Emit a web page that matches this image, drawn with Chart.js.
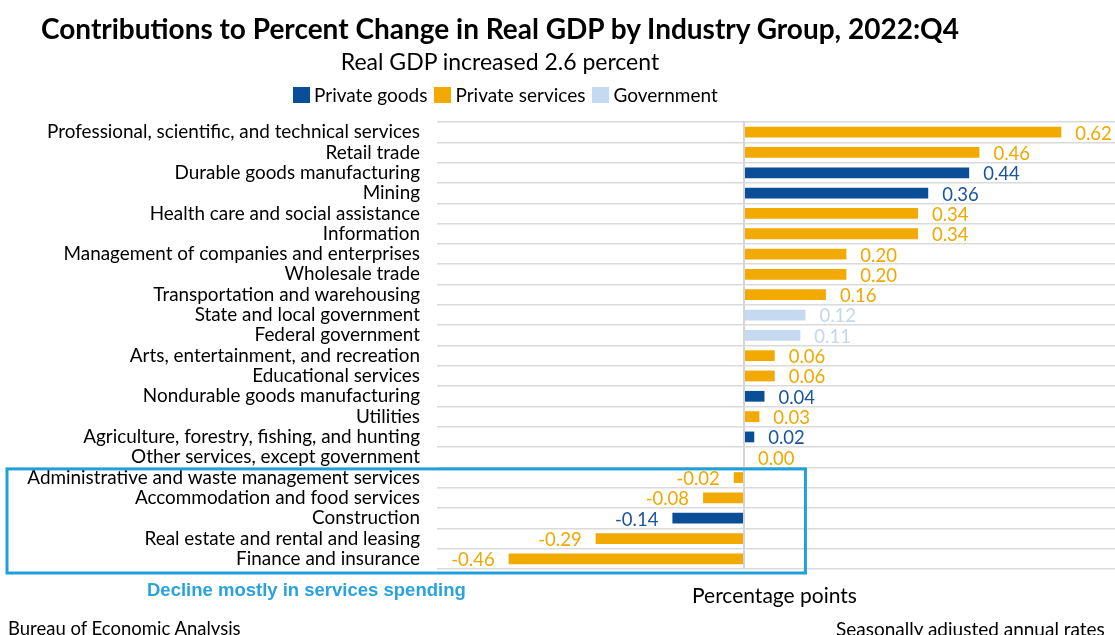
<!DOCTYPE html>
<html>
<head>
<meta charset="utf-8">
<script src="https://cdn.jsdelivr.net/npm/chart.js@4.4.1/dist/chart.umd.min.js"></script>
<style>
  body { margin: 0; background: #fff; font-family: Lato, "Open Sans", sans-serif; }
  #wrap { position: relative; width: 1115px; height: 635px; overflow: hidden; }
  #chartBox { position: absolute; left: 0; top: 0; width: 1115px; height: 635px; }
  .txt { position: absolute; white-space: nowrap; color: #000; line-height: 1; }
  #title { left: 0; width: 1000px; top: 14px; text-align: center; font-weight: 700; font-size: 28px; }
  #subtitle { left: 0; width: 1000px; top: 50px; text-align: center; font-size: 23px; }
  #legend { position: absolute; left: 293px; top: 83px; display: flex; align-items: center; font-size: 19px; }
  #legend .item { display: flex; align-items: center; margin-right: 7px; }
  #legend .swatch { width: 17px; height: 16px; margin-right: 4px; }
  #decline { left: 147px; top: 581px; font-family: "Liberation Sans", Arial, sans-serif; font-weight: 700; font-size: 18.5px; color: #2aa3dc; }
  #units { left: 692px; top: 584px; font-size: 21px; }
  #source { left: 8px; top: 619px; font-size: 18.5px; }
  #note { left: 836px; top: 619px; font-size: 19px; }
</style>
</head>
<body>
<div id="wrap">
  <div id="chartBox"><canvas id="gdpChart"></canvas></div>
  <div class="txt" id="title">Contributions to Percent Change in Real GDP by Industry Group, 2022:Q4</div>
  <div class="txt" id="subtitle">Real GDP increased 2.6 percent</div>
  <div id="legend"></div>
  <div class="txt" id="decline">Decline mostly in services spending</div>
  <div class="txt" id="units">Percentage points</div>
  <div class="txt" id="source">Bureau of Economic Analysis</div>
  <div class="txt" id="note">Seasonally adjusted annual rates</div>
</div>
<script>
// Industry groups, top to bottom
const industries = [
    'Professional, scientific, and technical services',
    'Retail trade',
    'Durable goods manufacturing',
    'Mining',
    'Health care and social assistance',
    'Information',
    'Management of companies and enterprises',
    'Wholesale trade',
    'Transportation and warehousing',
    'State and local government',
    'Federal government',
    'Arts, entertainment, and recreation',
    'Educational services',
    'Nondurable goods manufacturing',
    'Utilities',
    'Agriculture, forestry, fishing, and hunting',
    'Other services, except government',
    'Administrative and waste management services',
    'Accommodation and food services',
    'Construction',
    'Real estate and rental and leasing',
    'Finance and insurance'
];

// Contribution in percentage points
const contributions = [0.62, 0.46, 0.44, 0.36, 0.34, 0.34, 0.20, 0.20, 0.16, 0.12, 0.11,
    0.06, 0.06, 0.04, 0.03, 0.02, 0.00, -0.02, -0.08, -0.14, -0.29, -0.46];

// 0 = private goods, 1 = private services, 2 = government
const sectorOf = [1, 1, 0, 0, 1, 1, 1, 1, 1, 2, 2, 1, 1, 0, 1, 0, 1, 1, 1, 0, 1, 1];

const sectorNames = ['Private goods', 'Private services', 'Government'];

const barColors = ['#0b4e98', '#f2a900', '#c5d9f0'];
const valueColors = ['#1a559f', '#f0a800', '#c3d7ee'];

const labelFont = '18.5px Lato, "Open Sans", sans-serif';

// one dataset per sector so each gets its own colour, stacked on a single row
const datasets = sectorNames.map((name, s) => ({
    label: name,
    data: contributions.map((v, i) => sectorOf[i] === s ? v : null),
    backgroundColor: barColors[s],
    borderWidth: 0,
    categoryPercentage: 1,
    barPercentage: 0.53
}));

// legend
const legendDiv = document.getElementById('legend');
legendDiv.innerHTML = sectorNames.map((name, s) => `
    <div class="item"><div class="swatch" style="background:${barColors[s]}"></div>${name}</div>
`).join('');

// numbers next to the bars
const valueLabels = {
    id: 'valueLabels',
    afterDatasetsDraw(chart) {
        const ctx = chart.ctx;
        ctx.save();
        ctx.font = labelFont;
        ctx.textBaseline = 'middle';
        chart.data.datasets.forEach((ds, s) => {
            const meta = chart.getDatasetMeta(s);
            meta.data.forEach((bar, i) => {
                const v = ds.data[i];
                if (v === null) return;
                ctx.fillStyle = valueColors[s];
                if (v >= 0) {
                    ctx.textAlign = 'left';
                    ctx.fillText(v.toFixed(2), bar.x + 14, bar.y + 1.5);
                } else {
                    ctx.textAlign = 'right';
                    ctx.fillText(v.toFixed(2), bar.x - 14, bar.y + 1.5);
                }
            });
        });
        ctx.restore();
    }
};

// frame round the negative contributors
const declineBox = {
    id: 'declineBox',
    afterDraw(chart) {
        const y = chart.scales.y;
        const x = chart.scales.x;
        const row = y.getPixelForValue(1) - y.getPixelForValue(0);
        const first = contributions.findIndex(v => v < 0);
        const top = y.getPixelForValue(first) - row / 2 + 1.5;
        const bottom = y.getPixelForValue(industries.length - 1) + row / 2 + 4;
        const left = 7;
        const right = x.getPixelForValue(0.12);
        const ctx = chart.ctx;
        ctx.save();
        ctx.strokeStyle = '#1ea0dc';
        ctx.lineWidth = 3;
        ctx.strokeRect(left, top, right - left, bottom - top);
        ctx.restore();
    }
};

new Chart(document.getElementById('gdpChart'), {
    type: 'bar',
    data: { labels: industries, datasets: datasets },
    plugins: [valueLabels, declineBox],
    options: {
        indexAxis: 'y',
        responsive: true,
        maintainAspectRatio: false,
        animation: false,
        layout: { padding: { top: 122, bottom: 66, left: 0, right: 0 } },
        plugins: {
            legend: { display: false },
            title: { display: false },
            tooltip: { enabled: false }
        },
        scales: {
            x: {
                stacked: true,
                min: -0.6,
                max: 0.725,
                border: { display: false },
                ticks: { display: false, stepSize: 0.2 },
                grid: {
                    drawTicks: false,
                    lineWidth: 2,
                    color: c => (c.tick && c.tick.value === 0) ? '#d4d4d4' : 'rgba(0,0,0,0)'
                },
                afterFit: s => { s.height = 0; }
            },
            y: {
                stacked: true,
                border: { display: false },
                grid: { drawTicks: false, color: '#dadada', lineWidth: 1.5 },
                ticks: {
                    autoSkip: false,
                    color: '#000',
                    padding: 17,
                    font: { family: 'Lato, "Open Sans", sans-serif', size: 18.9 }
                },
                afterFit: s => { s.width = 437; }
            }
        }
    }
});
</script>
</body>
</html>
